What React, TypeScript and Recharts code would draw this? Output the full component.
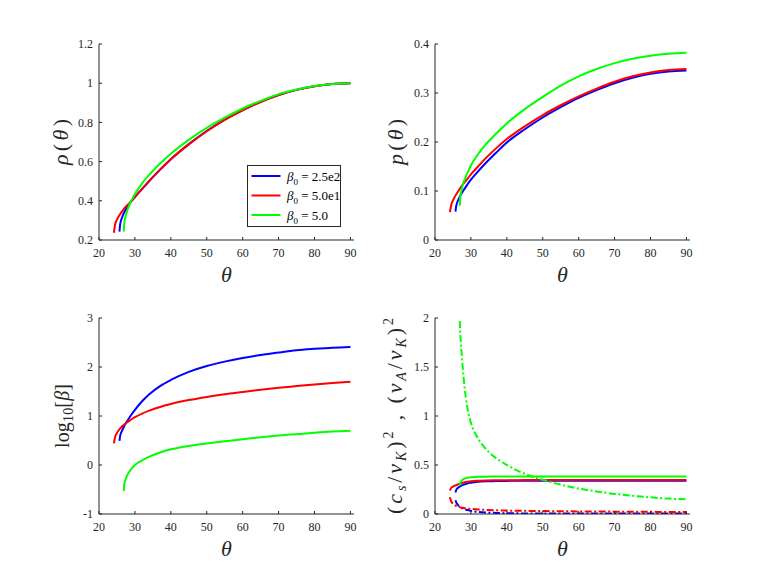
import React from "react";
import { LineChart, Line, XAxis, YAxis, Legend } from "recharts";

// polar angle samples for each run (start of each curve differs)
const thetaBlue = [25.7, 25.9, 26.2, 26.6, 27.2, 28, 29, 30, 32, 34, 37, 40, 45, 50, 55, 60, 65, 70, 75, 80, 85, 90];
const thetaRed = [24.15, 24.5, 25, 25.5, 26.5, 27.5, 28.5, 30, 32, 34, 37, 40, 45, 50, 55, 60, 65, 70, 75, 80, 85, 90];
const thetaGreen = [26.9, 27, 27.2, 27.5, 28, 28.6, 29.3, 30, 32, 34, 37, 40, 45, 50, 55, 60, 65, 70, 75, 80, 85, 90];

const thetaTicks = [20, 30, 40, 50, 60, 70, 80, 90];
const legendLabels = ["2.5e2", "5.0e1", "5.0"];

// rho(theta)
const rhoBlue = [0.243, 0.281, 0.303, 0.324, 0.347, 0.372, 0.397, 0.419, 0.46, 0.501, 0.559, 0.612, 0.689, 0.756, 0.814, 0.863, 0.905, 0.94, 0.966, 0.985, 0.996, 1.0];
const rhoRed = [0.237, 0.28, 0.304, 0.321, 0.348, 0.371, 0.389, 0.42, 0.461, 0.502, 0.559, 0.612, 0.688, 0.755, 0.813, 0.862, 0.904, 0.939, 0.966, 0.985, 0.996, 1.0];
const rhoGreen = [0.243, 0.277, 0.304, 0.327, 0.357, 0.385, 0.411, 0.435, 0.489, 0.533, 0.59, 0.64, 0.711, 0.772, 0.824, 0.871, 0.91, 0.944, 0.968, 0.986, 0.996, 1.0];

// p(theta)
const pBlue = [0.058, 0.069, 0.077, 0.084, 0.093, 0.102, 0.113, 0.123, 0.14, 0.156, 0.178, 0.199, 0.226, 0.25, 0.271, 0.29, 0.306, 0.32, 0.331, 0.339, 0.344, 0.346];
const pRed = [0.057, 0.071, 0.081, 0.088, 0.1, 0.111, 0.12, 0.134, 0.15, 0.166, 0.187, 0.206, 0.232, 0.255, 0.275, 0.293, 0.309, 0.323, 0.334, 0.342, 0.347, 0.349];
const pGreen = [0.07, 0.085, 0.095, 0.106, 0.118, 0.13, 0.141, 0.152, 0.175, 0.194, 0.217, 0.238, 0.267, 0.292, 0.315, 0.334, 0.349, 0.361, 0.37, 0.376, 0.38, 0.382];

// log10(beta)
const logBetaBlue = [0.49, 0.6, 0.664, 0.73, 0.82, 0.915, 1.025, 1.125, 1.3, 1.445, 1.61, 1.735, 1.9, 2.02, 2.11, 2.185, 2.245, 2.295, 2.34, 2.37, 2.395, 2.41];
const logBetaRed = [0.44, 0.577, 0.654, 0.71, 0.796, 0.852, 0.905, 0.975, 1.05, 1.11, 1.185, 1.245, 1.325, 1.39, 1.445, 1.49, 1.535, 1.575, 1.61, 1.645, 1.675, 1.7];
const logBetaGreen = [-0.53, -0.42, -0.34, -0.27, -0.19, -0.12, -0.055, 0.0, 0.095, 0.17, 0.255, 0.32, 0.39, 0.44, 0.485, 0.525, 0.565, 0.6, 0.63, 0.66, 0.685, 0.7];

// (cs/vK)^2, solid
const cs2Blue = [0.22, 0.245, 0.26, 0.273, 0.287, 0.3, 0.312, 0.319, 0.328, 0.333, 0.336, 0.338, 0.339, 0.34, 0.34, 0.34, 0.34, 0.34, 0.34, 0.34, 0.34, 0.34];
const cs2Red = [0.24, 0.265, 0.279, 0.289, 0.304, 0.317, 0.326, 0.334, 0.339, 0.342, 0.344, 0.345, 0.346, 0.347, 0.347, 0.347, 0.347, 0.347, 0.347, 0.347, 0.347, 0.347];
const cs2Green = [0.29, 0.31, 0.33, 0.345, 0.358, 0.366, 0.372, 0.376, 0.379, 0.381, 0.382, 0.383, 0.383, 0.383, 0.383, 0.383, 0.383, 0.383, 0.383, 0.383, 0.383, 0.383];

// (vA/vK)^2, dash-dot
const va2Blue = [0.14, 0.118, 0.1, 0.084, 0.068, 0.052, 0.04, 0.032, 0.021, 0.015, 0.011, 0.008, 0.006, 0.005, 0.004, 0.004, 0.004, 0.004, 0.004, 0.004, 0.004, 0.004];
const va2Red = [0.17, 0.13, 0.105, 0.09, 0.075, 0.064, 0.058, 0.052, 0.046, 0.042, 0.038, 0.035, 0.032, 0.03, 0.028, 0.026, 0.025, 0.024, 0.023, 0.022, 0.021, 0.021];
const va2Green = [1.97, 1.88, 1.75, 1.6, 1.38, 1.18, 1.03, 0.93, 0.77, 0.67, 0.57, 0.5, 0.41, 0.35, 0.3, 0.26, 0.23, 0.205, 0.185, 0.17, 0.157, 0.15];

const BLUE = "#0000ff";
const RED = "#ff0000";
const GREEN = "#00ff00";
const INK = "#262626";
const SERIF = "Liberation Serif, Times New Roman, serif";

const W = 381;
const H = 289;
const PW = 255;
const PH = 196;
const XAX_H = 40;

type Series = { t: number[]; v: number[]; color: string; name: string; dash?: boolean };

const pts = (t: number[], v: number[]) => t.map((x, i) => ({ t: x, v: v[i] }));

const XTick = (p: any) => (
  <text x={p.x} y={p.y} dy="0.71em" textAnchor="middle" fill={INK} fontSize={12} fontFamily={SERIF} style={{ fontFamily: SERIF }}>
    {p.payload.value}
  </text>
);

const YTick = (p: any) => (
  <text x={p.x} y={p.y} dy="0.35em" textAnchor="end" fill={INK} fontSize={12} fontFamily={SERIF} style={{ fontFamily: SERIF }}>
    {p.payload.value}
  </text>
);

const renderLegend = (props: any) => {
  const items = [...(props.payload || [])].sort(
    (a: any, b: any) => legendLabels.indexOf(a.value) - legendLabels.indexOf(b.value)
  );
  return (
    <svg width={94} height={62} style={{ display: "block" }}>
      <rect x={0.5} y={0.5} width={93} height={61} fill="#fff" stroke={INK} strokeWidth={1} />
      {items.map((p: any, i: number) => {
        const ly = 11 + i * 19.5;
        return (
          <g key={i}>
            <line x1={4.5} x2={33.5} y1={ly} y2={ly} stroke={p.color} strokeWidth={2} />
            <text x={40} y={ly + 4.5} fontFamily={SERIF} style={{ fontFamily: SERIF }} fontSize={13} fill="#000">
              <tspan fontStyle="italic">β</tspan>
              <tspan fontSize={9} dy={4}>0</tspan>
              <tspan dy={-4}>{" = " + p.value}</tspan>
            </text>
          </g>
        );
      })}
    </svg>
  );
};

function Panel(props: {
  x: number;
  y: number;
  plotLeft: number;
  plotTop: number;
  yDomain: [number, number];
  yTicks: number[];
  yLabel: React.ReactNode;
  yLabelX: number;
  yLabelLen: number;
  yLabelSize: number;
  lines: Series[];
  legend?: boolean;
}) {
  const { x, y, plotLeft, plotTop, yDomain, yTicks, yLabel, yLabelX, yLabelLen, yLabelSize, lines, legend } = props;
  const cy = plotTop + PH / 2;
  const thetaLabel = () => (
    <text
      x={plotLeft + PW / 2}
      y={plotTop + PH + 42}
      textAnchor="middle"
      fontFamily={SERIF}
      style={{ fontFamily: SERIF }}
      fontSize={22}
      fontStyle="italic"
      fill={INK}
    >
      θ
    </text>
  );
  const valueLabel = () => (
    <text
      x={yLabelX}
      y={cy}
      transform={`rotate(-90 ${yLabelX} ${cy})`}
      textAnchor="middle"
      fontFamily={SERIF}
      style={{ fontFamily: SERIF }}
      fontSize={yLabelSize}
      fill={INK}
      textLength={yLabelLen}
    >
      {yLabel}
    </text>
  );
  return (
    <div style={{ position: "absolute", left: x, top: y, width: W, height: H }}>
      <LineChart
        width={W}
        height={H}
        margin={{ top: plotTop, right: W - plotLeft - PW, bottom: H - plotTop - PH - XAX_H, left: 0 }}
      >
        <XAxis
          xAxisId="bottom"
          dataKey="t"
          type="number"
          domain={[20, 91]}
          ticks={thetaTicks}
          allowDataOverflow
          height={XAX_H}
          tickSize={-3}
          tickMargin={11}
          stroke={INK}
          tick={XTick}
          label={thetaLabel}
        />
        <XAxis
          xAxisId="top"
          orientation="top"
          dataKey="t"
          type="number"
          domain={[20, 91]}
          ticks={thetaTicks}
          allowDataOverflow
          height={0}
          tickSize={-3}
          stroke={INK}
          tick={false}
        />
        <YAxis
          yAxisId="left"
          type="number"
          domain={yDomain}
          ticks={yTicks}
          allowDataOverflow
          width={plotLeft}
          tickSize={-3}
          tickMargin={9}
          stroke={INK}
          tick={YTick}
          label={valueLabel}
        />
        <YAxis
          yAxisId="right"
          orientation="right"
          type="number"
          domain={yDomain}
          ticks={yTicks}
          allowDataOverflow
          width={0}
          tickSize={-3}
          stroke={INK}
          tick={false}
        />
        {lines.map((s, i) => (
          <Line
            key={i}
            xAxisId="bottom"
            yAxisId="left"
            data={pts(s.t, s.v)}
            dataKey="v"
            name={s.name}
            type="monotone"
            stroke={s.color}
            strokeWidth={2}
            strokeDasharray={s.dash ? "7 2.5 2 2.5" : undefined}
            dot={false}
            activeDot={false}
            legendType={s.dash ? "none" : "line"}
            isAnimationActive={false}
          />
        ))}
        {legend && (
          <Legend
            layout="vertical"
            align="center"
            verticalAlign="middle"
            content={renderLegend}
            wrapperStyle={{ left: 247, top: 165, width: 94, height: 62 }}
          />
        )}
      </LineChart>
    </div>
  );
}

export default function App() {
  return (
    <div style={{ position: "absolute", left: 0, top: 0, width: 763, height: 578, background: "#fff" }}>
      <Panel
        x={0}
        y={0}
        plotLeft={99}
        plotTop={44}
        yDomain={[0.2, 1.2]}
        yTicks={[0.2, 0.4, 0.6, 0.8, 1, 1.2]}
        yLabel={
          <>
            <tspan fontStyle="italic">ρ</tspan>(<tspan fontStyle="italic">θ</tspan>)
          </>
        }
        yLabelX={68}
        yLabelLen={46}
        yLabelSize={22}
        legend
        lines={[
          { t: thetaBlue, v: rhoBlue, color: BLUE, name: legendLabels[0] },
          { t: thetaRed, v: rhoRed, color: RED, name: legendLabels[1] },
          { t: thetaGreen, v: rhoGreen, color: GREEN, name: legendLabels[2] },
        ]}
      />
      <Panel
        x={381}
        y={0}
        plotLeft={54}
        plotTop={44}
        yDomain={[0, 0.4]}
        yTicks={[0, 0.1, 0.2, 0.3, 0.4]}
        yLabel={
          <>
            <tspan fontStyle="italic">p</tspan>(<tspan fontStyle="italic">θ</tspan>)
          </>
        }
        yLabelX={22}
        yLabelLen={46}
        yLabelSize={22}
        lines={[
          { t: thetaBlue, v: pBlue, color: BLUE, name: legendLabels[0] },
          { t: thetaRed, v: pRed, color: RED, name: legendLabels[1] },
          { t: thetaGreen, v: pGreen, color: GREEN, name: legendLabels[2] },
        ]}
      />
      <Panel
        x={0}
        y={289}
        plotLeft={99}
        plotTop={29}
        yDomain={[-1, 3]}
        yTicks={[-1, 0, 1, 2, 3]}
        yLabel={
          <>
            log<tspan fontSize={14} dy={4}>10</tspan>
            <tspan dy={-4}>[</tspan>
            <tspan fontStyle="italic">β</tspan>]
          </>
        }
        yLabelX={69}
        yLabelLen={64}
        yLabelSize={20}
        lines={[
          { t: thetaBlue, v: logBetaBlue, color: BLUE, name: legendLabels[0] },
          { t: thetaRed, v: logBetaRed, color: RED, name: legendLabels[1] },
          { t: thetaGreen, v: logBetaGreen, color: GREEN, name: legendLabels[2] },
        ]}
      />
      <Panel
        x={381}
        y={289}
        plotLeft={54}
        plotTop={29}
        yDomain={[0, 2]}
        yTicks={[0, 0.5, 1, 1.5, 2]}
        yLabel={
          <>
            (<tspan fontStyle="italic">c</tspan>
            <tspan fontSize={14} fontStyle="italic" dy={4}>s</tspan>
            <tspan dy={-4}>/</tspan>
            <tspan fontStyle="italic">v</tspan>
            <tspan fontSize={14} fontStyle="italic" dy={4}>K</tspan>
            <tspan dy={-4}>)</tspan>
            <tspan fontSize={14} dy={-9}>2</tspan>
            <tspan dy={9}> , (</tspan>
            <tspan fontStyle="italic">v</tspan>
            <tspan fontSize={14} fontStyle="italic" dy={4}>A</tspan>
            <tspan dy={-4}>/</tspan>
            <tspan fontStyle="italic">v</tspan>
            <tspan fontSize={14} fontStyle="italic" dy={4}>K</tspan>
            <tspan dy={-4}>)</tspan>
            <tspan fontSize={14} dy={-9}>2</tspan>
          </>
        }
        yLabelX={21}
        yLabelLen={196}
        yLabelSize={22}
        lines={[
          { t: thetaBlue, v: cs2Blue, color: BLUE, name: legendLabels[0] },
          { t: thetaBlue, v: va2Blue, color: BLUE, name: legendLabels[0], dash: true },
          { t: thetaRed, v: cs2Red, color: RED, name: legendLabels[1] },
          { t: thetaRed, v: va2Red, color: RED, name: legendLabels[1], dash: true },
          { t: thetaGreen, v: cs2Green, color: GREEN, name: legendLabels[2] },
          { t: thetaGreen, v: va2Green, color: GREEN, name: legendLabels[2], dash: true },
        ]}
      />
    </div>
  );
}
